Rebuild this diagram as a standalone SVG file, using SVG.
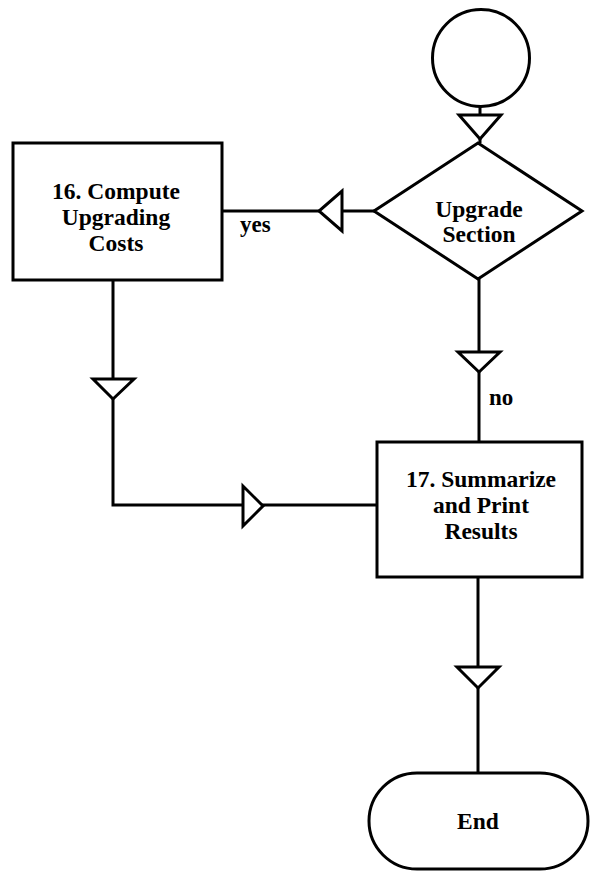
<svg xmlns="http://www.w3.org/2000/svg" width="592" height="872" viewBox="0 0 592 872">
<style>
.s{fill:#fff;stroke:#000;stroke-width:3}
.c{fill:none;stroke:#000;stroke-width:3}
.a{fill:#fff;stroke:#000;stroke-width:3;stroke-linejoin:miter}
.t{font-family:"Liberation Serif","Times New Roman",serif;font-size:23.5px;font-weight:bold;fill:#000;text-anchor:middle}
.l{font-family:"Liberation Serif","Times New Roman",serif;font-size:23px;font-weight:bold;fill:#000}
</style>
<rect width="592" height="872" fill="#fff"/>
<g id="connectors">
<path class="c" d="M480 107 V143"/>
<path class="c" d="M374 211 H222"/>
<path class="c" d="M113 280 V505 H377"/>
<path class="c" d="M479 279 V442"/>
<path class="c" d="M478 577 V773"/>
<polygon class="a" points="459,115 501,115 480,139"/>
<polygon class="a" points="342,191 342,231 319,211"/>
<polygon class="a" points="93,379 134,379 113,399"/>
<polygon class="a" points="243,486 243,526 263,506"/>
<polygon class="a" points="458,352 500,352 479,372"/>
<polygon class="a" points="457,667 499,667 478,688"/>
<text class="l" x="240" y="232">yes</text>
<text class="l" x="489" y="405">no</text>
</g>
<g id="start">
<circle class="s" cx="481" cy="58" r="48.5"/>
</g>
<g id="decision">
<polygon class="s" points="478,143 582,211 478,279 374,211"/>
<text class="t" x="479" y="217">Upgrade</text>
<text class="t" x="479" y="242">Section</text>
</g>
<g id="box16">
<rect class="s" x="13" y="143" width="209" height="137"/>
<text class="t" x="116" y="199">16. Compute</text>
<text class="t" x="116" y="225">Upgrading</text>
<text class="t" x="116" y="251">Costs</text>
</g>
<g id="box17">
<rect class="s" x="377" y="442" width="205" height="135"/>
<text class="t" x="481" y="487">17. Summarize</text>
<text class="t" x="481" y="513">and Print</text>
<text class="t" x="481" y="539">Results</text>
</g>
<g id="end">
<rect class="s" x="369" y="773" width="219" height="96" rx="48" ry="48"/>
<text class="t" x="478" y="829">End</text>
</g>
</svg>
